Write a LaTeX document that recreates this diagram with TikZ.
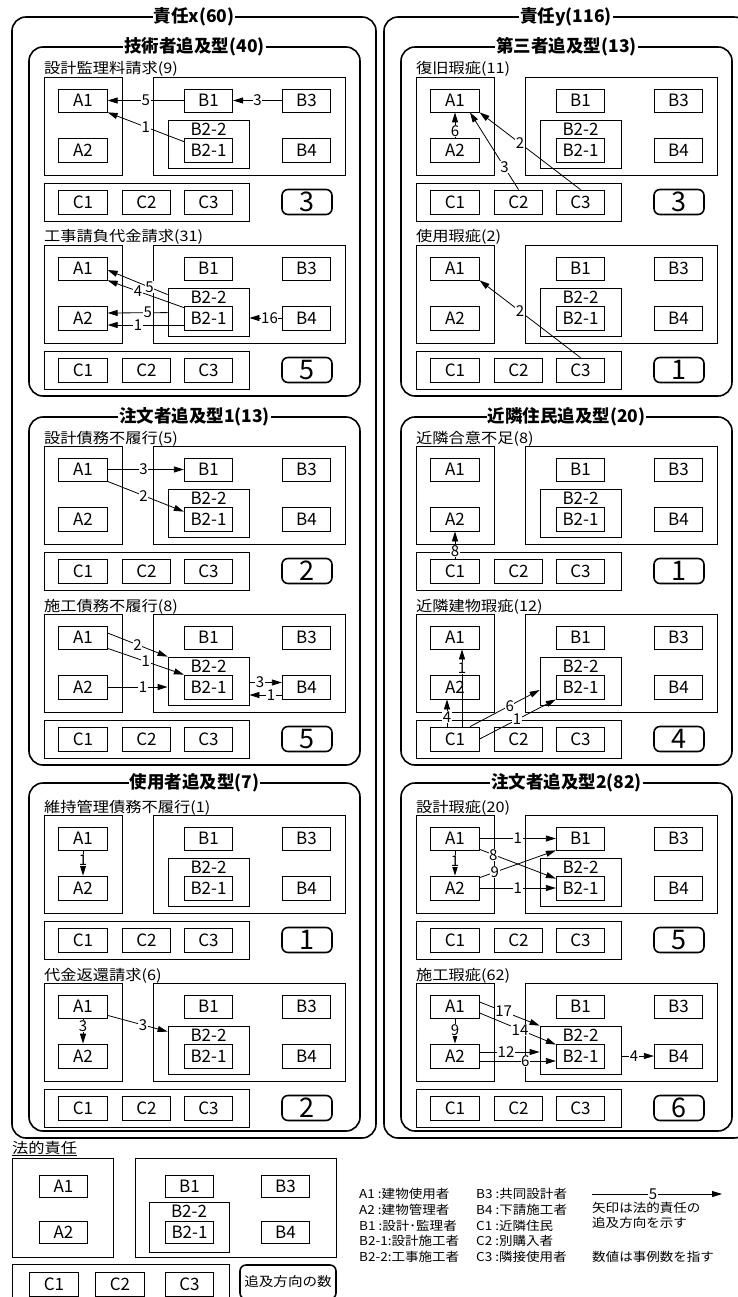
\documentclass[tikz,border=0pt]{standalone}
\usepackage{fontspec}
\setmainfont{Noto Sans CJK JP}
\newfontfamily\cjkw[FakeStretch=1.12]{Noto Sans CJK JP}
\newfontfamily\cjkl[FakeStretch=1.1]{Noto Sans CJK JP}
\usetikzlibrary{arrows.meta,calc}
\newcommand{\fnode}{\fontsize{17}{17}\selectfont}
\newcommand{\fcnt}{\fontsize{27}{27}\selectfont}
\newcommand{\fttl}{\bfseries\fontsize{17.5}{18}\selectfont}
\newcommand{\fsub}{\cjkw\fontsize{14.5}{14.5}\selectfont}
\newcommand{\fcntl}{\cjkw\fontsize{13}{13}\selectfont}
\newcommand{\flab}{\fontsize{15}{15}\selectfont}
\newcommand{\fleg}{\cjkl\fontsize{12.3}{12.3}\selectfont}
\tikzset{
 box/.style={draw, line width=0.8pt, inner sep=0pt, minimum width=48.5pt, minimum height=24pt, font=\fnode},
 grp/.style={draw, line width=0.8pt, inner sep=0pt},
 cnt/.style={draw, line width=1.6pt, rounded corners=6pt, minimum width=50pt, minimum height=25pt, inner sep=0pt, font=\fcnt},
 panel/.style={draw, line width=1.6pt, rounded corners=14pt},
 ttl/.style={fill=white, inner sep=1pt, font=\fttl},
 sublab/.style={anchor=base west, inner sep=0pt, font=\fsub},
 arr/.style={-{Triangle[length=10pt,width=6pt]}, line width=0.8pt},
 lab/.style={fill=white, inner sep=0.6pt, font=\flab},
 leg/.style={anchor=west, inner sep=0pt, font=\fleg},
}
\newcommand{\subpanel}[5]{%
\begin{scope}[shift={(#2,#3)}]
 \node[grp, minimum width=78pt, minimum height=98pt] (#1Ab) at (83,49) {};
 \node[grp, minimum width=192pt, minimum height=98pt] (#1Bb) at (249,49) {};
 \node[grp, minimum width=205pt, minimum height=38pt] (#1Cb) at (146.5,125) {};
 \node[box, minimum height=23pt] (#1A1) at (83,23.5) {A1};
 \node[box] (#1A2) at (83,73) {A2};
 \node[box, minimum height=23pt] (#1B1) at (208.5,23.5) {B1};
 \node[box, minimum height=23pt] (#1B3) at (306.5,23.5) {B3};
 \node[grp, minimum width=81pt, minimum height=48pt, label={[anchor=north,inner sep=0pt,yshift=-3pt,font=\fnode]north:B2-2}] (#1B22) at (208.5,67) {};
 \node[box] (#1B21) at (208.5,73) {B2-1};
 \node[box] (#1B4) at (306.5,73) {B4};
 \node[box] (#1C1) at (83,125) {C1};
 \node[box] (#1C2) at (146.5,125) {C2};
 \node[box] (#1C3) at (208.5,125) {C3};
 \node[cnt] (#1N) at (307,125) {#5};
 \node[sublab] (#1L) at (44,-3) {#4};
\end{scope}}
\begin{document}
\begin{tikzpicture}[x=1pt,y=-1pt]
\useasboundingbox (0,0) rectangle (737,1297);
% outer frames
\draw[panel] (12,17) rectangle (376,1138);
\node[ttl] (tx) at (194,17) {責任x(60)};
\draw[panel] (384,17) rectangle (748,1138);
\node[ttl] (ty) at (566,17) {責任y(116)};
% panels
\draw[panel] (29,47) rectangle (360,396);
\node[ttl] (t1) at (194.5,47) {技術者追及型(40)};
\draw[panel] (29,417) rectangle (360,765);
\node[ttl] (t2) at (194.5,417) {注文者追及型1(13)};
\draw[panel] (29,783) rectangle (360,1131);
\node[ttl] (t3) at (194.5,783) {使用者追及型(7)};
\draw[panel] (401,47) rectangle (732,396);
\node[ttl] (t4) at (566.5,47) {第三者追及型(13)};
\draw[panel] (401,417) rectangle (732,765);
\node[ttl] (t5) at (566.5,417) {近隣住民追及型(20)};
\draw[panel] (401,783) rectangle (732,1131);
\node[ttl] (t6) at (566.5,783) {注文者追及型2(82)};
% subpanels
\subpanel{a}{0}{77}{設計監理料請求(9)}{3}
\subpanel{b}{0}{245}{工事請負代金請求(31)}{5}
\subpanel{c}{0}{446}{設計債務不履行(5)}{2}
\subpanel{d}{0}{614}{施工債務不履行(8)}{5}
\subpanel{e}{0}{815}{維持管理債務不履行(1)}{1}
\subpanel{f}{0}{983}{代金返還請求(6)}{2}
\subpanel{g}{372}{77}{復旧瑕疵(11)}{3}
\subpanel{h}{372}{245}{使用瑕疵(2)}{1}
\subpanel{i}{372}{446}{近隣合意不足(8)}{1}
\subpanel{j}{372}{614}{近隣建物瑕疵(12)}{4}
\subpanel{k}{372}{815}{設計瑕疵(20)}{5}
\subpanel{l}{372}{983}{施工瑕疵(62)}{6}
% arrows: a
\draw[arr] (aB1.west) -- node[lab]{5} (aA1.east);
\draw[arr] (aB3.west) -- node[lab]{3} (aB1.east);
\draw[arr] ([yshift=-4pt]aB21.north west) -- node[lab]{1} (aA1.south east);
% b
\draw[arr] ([yshift=-7pt]bB22.north west) -- node[lab,pos=.3]{5} ([yshift=-1.5pt]bA1.east);
\draw[arr] ([yshift=-2pt]bB21.north west) -- node[lab,pos=.6]{4} (bA1.south east);
\draw[arr] ([yshift=-25pt]bB22.north west) -- node[lab,pos=.33]{5} ([yshift=5pt]bA2.east);
\draw[arr] ([yshift=-7pt]bB21.west) -- node[lab,pos=.6]{1} ([yshift=-7pt]bA2.east);
\draw[arr] (bB4.west) -- node[lab,pos=.38]{16} ([yshift=-6pt]bB22.east);
% c
\draw[arr] (cA1.east) -- node[lab,pos=.47]{3} (cB1.west);
\draw[arr] (cA1.south east) -- node[lab,pos=.47]{2} ([yshift=-5pt]cB21.north west);
% d
\draw[arr] ([yshift=4.5pt]dA1.east) -- node[lab]{2} (dB22.north west);
\draw[arr] ([yshift=1pt]dA1.south east) -- node[lab]{1} (dB21.north west);
\draw[arr] (dA2.east) -- node[lab,pos=.59]{1} ([yshift=-6pt]dB22.west);
\draw[arr] ([yshift=-1.5pt]dB22.east) -- node[lab,pos=.33]{3} ([yshift=4.5pt]dB4.west);
\draw[arr] ([yshift=-8pt]dB4.west) -- node[lab,pos=.33]{1} ([yshift=-14pt]dB22.east);
% e
\draw[arr] (eA1.south) -- node[lab,pos=.38]{1} (eA2.north);
% f
\draw[arr] (fA1.south) -- node[lab,pos=.3]{3} (fA2.north);
\draw[arr] ([yshift=3pt]fA1.south east) -- node[lab,pos=.59]{3} ([yshift=-6pt]fB22.north west);
% g
\draw[arr] (gA2.north) -- node[lab,pos=.25]{6} (gA1.south);
\draw[arr] (gC2.north) -- node[lab,pos=.29]{3} ([xshift=15pt]gA1.south);
\draw[arr] (gC3.north) -- node[lab,pos=.6]{2} (gA1.south east);
% h
\draw[arr] (hC3.north) -- node[lab,pos=.6]{2} (hA1.south east);
% i
\draw[arr] (iC1.north) -- node[lab,pos=.29]{8} (iA2.south);
% j
\draw[arr] ([xshift=7pt]jC1.north) -- node[lab,pos=.76]{1} ([xshift=7pt]jA1.south);
\draw[arr] ([xshift=-8pt]jC1.north) -- node[lab,pos=.35]{4} ([xshift=-8pt]jA2.south);
\draw[arr] ([xshift=15pt]jC1.north) -- node[lab,pos=.57]{6} ([yshift=-9pt]jB22.west);
\draw[arr] (jC1.east) -- node[lab,pos=.49]{1} (jB21.south west);
% k
\draw[arr] (kA1.east) -- node[lab]{1} (kB1.west);
\draw[arr] ([yshift=1pt]kA1.south east) -- node[lab,pos=.18]{8} ([yshift=-3pt]kB21.north west);
\draw[arr] ([yshift=-2pt]kA2.north east) -- node[lab,pos=.2]{9} (kB1.south west);
\draw[arr] (kA1.south) -- node[lab,pos=.42]{1} (kA2.north);
\draw[arr] (kA2.east) -- node[lab]{1} (kB21.west);
% l
\draw[arr] ([yshift=4.5pt]lA1.east) -- node[lab,pos=.4]{17} (lB22.north west);
\draw[arr] ([yshift=-6.5pt]lA1.east) -- node[lab,pos=.53]{14} ([yshift=-1pt]lB21.north west);
\draw[arr] (lA1.south) -- node[lab,pos=.45]{9} (lA2.north);
\draw[arr] ([yshift=4pt]lA2.east) -- node[lab,pos=.44]{12} ([yshift=-2pt]lB22.west);
\draw[arr] ([yshift=-5pt]lA2.east) -- node[lab,pos=.6]{6} ([yshift=-5pt]lB21.west);
\draw[arr] ([yshift=-6pt]lB22.east) -- node[lab,pos=.39]{4} (lB4.west);
% legend
\node[sublab] (lgt) at (12,1153) {法的責任};
\draw[line width=0.8pt] ([yshift=-2.5pt]lgt.base west) -- ([yshift=-2.5pt]lgt.base east);
\node[grp, minimum width=101pt, minimum height=99pt] (lgAb) at (62.5,1207.5) {};
\node[grp, minimum width=201pt, minimum height=99pt] (lgBb) at (235.5,1207.5) {};
\node[grp, minimum width=217pt, minimum height=34pt] (lgCb) at (120.5,1281) {};
\node[box, minimum height=22pt] (lgA1) at (63.5,1186) {A1};
\node[box, minimum height=22pt] (lgA2) at (63.5,1232.5) {A2};
\node[box, minimum height=22pt] (lgB1) at (189.5,1186) {B1};
\node[box, minimum height=22pt] (lgB3) at (285.5,1186) {B3};
\node[grp, minimum width=80pt, minimum height=50pt, label={[anchor=north,inner sep=0pt,yshift=-3pt,font=\fnode]north:B2-2}] (lgB22) at (189,1227) {};
\node[box, minimum height=22pt] (lgB21) at (189.5,1232) {B2-1};
\node[box, minimum height=22pt] (lgB4) at (285.5,1232) {B4};
\node[box] (lgC1) at (54,1284) {C1};
\node[box] (lgC2) at (120,1284) {C2};
\node[box] (lgC3) at (189.5,1284) {C3};
\node[cnt, minimum width=96pt, minimum height=34pt, font=\fcntl] (lgN) at (288,1282) {追及方向の数};
\node[leg] (l1) at (359,1194) {A1 :建物使用者};
\node[leg] (l2) at (359,1210) {A2 :建物管理者};
\node[leg] (l3) at (359,1226) {B1 :設計･監理者};
\node[leg] (l4) at (359,1241) {B2-1:設計施工者};
\node[leg] (l5) at (359,1257) {B2-2:工事施工者};
\node[leg] (m1) at (476,1194) {B3 :共同設計者};
\node[leg] (m2) at (476,1210) {B4 :下請施工者};
\node[leg] (m3) at (476,1226) {C1 :近隣住民};
\node[leg] (m4) at (476,1241) {C2 :別購入者};
\node[leg] (m5) at (476,1257) {C3 :隣接使用者};
\coordinate (las) at (592,1194);
\coordinate (lae) at (722,1194);
\draw[arr] (las) -- node[lab,pos=.47]{5} (lae);
\node[leg] (r1) at (592,1208) {矢印は法的責任の};
\node[leg] (r2) at (592,1223) {追及方向を示す};
\node[leg] (r3) at (592,1257) {数値は事例数を指す};
\end{tikzpicture}
\end{document}
